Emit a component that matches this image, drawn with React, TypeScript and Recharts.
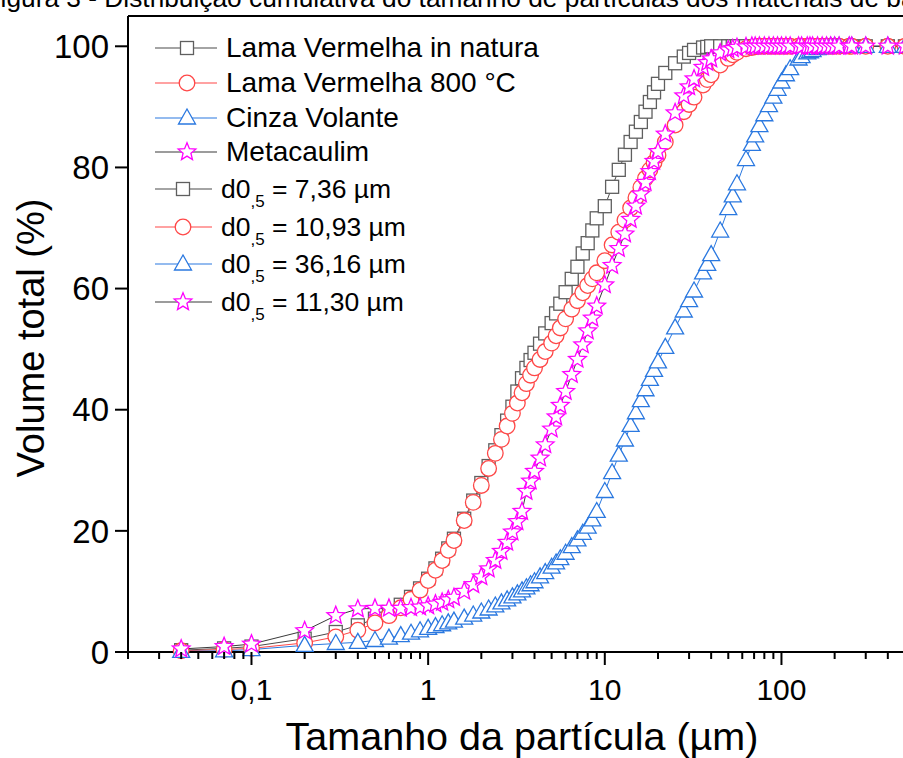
// Distribuição granulométrica acumulada dos materiais de base:
// log x (tamanho da partícula) vs volume acumulado, four open-marker series.

import { Legend, Line, LineChart, ReferenceLine, XAxis, YAxis } from "recharts";

const FONT = "'Liberation Sans', Arial, Helvetica, sans-serif";

// granulometer size classes (µm)
const SIZES = [
  0.04, 0.07, 0.1, 0.2, 0.3, 0.4, 0.5, 0.6, 0.7, 0.8, 0.9, 1.0,
  1.1, 1.2, 1.3, 1.4, 1.6, 1.8, 2.0, 2.2, 2.4, 2.6, 2.8, 3.0,
  3.2, 3.4, 3.6, 3.8, 4.0, 4.3, 4.6, 5.0, 5.3, 5.6, 6.0, 6.5,
  7.0, 7.5, 8.0, 8.5, 9.0, 10, 11, 12, 13, 14, 15, 16,
  17, 18, 19, 20, 22, 25, 28, 30, 32, 36, 38, 40,
  45, 50, 53, 56, 63, 68, 71, 75, 80, 85, 90, 95,
  100, 106, 112, 125, 130, 140, 145, 150, 160, 170, 180, 190,
  200, 212, 242, 250, 300, 400, 500,
];

// cumulative volume (%) per class
const LV_NATURA = [
  0.3, 0.6, 0.9, 2.2, 3.3, 4.4, 5.5, 6.6, 7.8, 9.1, 10.5, 12.1,
  13.8, 15.4, 17.1, 18.7, 22.0, 25.0, 27.9, 30.7, 33.3, 35.8, 38.2, 40.5,
  43.0, 45.2, 46.9, 48.2, 49.4, 50.9, 52.6, 54.3, 55.9, 57.5, 59.4, 61.6,
  63.6, 65.8, 67.5, 69.6, 71.6, 73.6, 76.8, 79.6, 82.1, 84.2, 85.9, 87.5,
  89.2, 90.8, 92.4, 93.8, 95.6, 97.2, 98.3, 98.9, 99.4, 99.8, 99.9, 100,
  100, 100, 100, 100, 100, 100, 100, 100, 100, 100, 100, 100,
  100, 100, 100, 100, 100, 100, 100, 100, 100, 100, 100, 100,
  100, 100, 100, 100, 100, 100, 100,
];

const LV_800 = [
  0.2, 0.4, 0.6, 1.5, 2.5, 3.6, 4.8, 6.0, 7.3, 8.7, 10.2, 11.8,
  13.5, 15.1, 16.8, 18.4, 21.7, 24.7, 27.5, 30.3, 32.8, 35.1, 37.3, 39.4,
  41.1, 42.8, 44.3, 45.7, 46.9, 48.3, 49.6, 51.0, 52.2, 53.5, 55.0, 56.6,
  58.0, 59.3, 60.5, 61.6, 62.6, 64.6, 67.2, 69.3, 71.3, 73.3, 75.0, 76.7,
  78.2, 79.6, 80.8, 82.0, 84.2, 87.0, 89.2, 90.4, 91.6, 93.6, 94.5, 95.3,
  96.9, 98.0, 98.6, 99.0, 99.6, 99.8, 99.9, 100, 100, 100, 100, 100,
  100, 100, 100, 100, 100, 100, 100, 100, 100, 100, 100, 100,
  100, 100, 100, 100, 100, 100, 100,
];

const CINZA_VOLANTE = [
  0.1, 0.2, 0.4, 1.1, 1.4, 1.6, 1.9, 2.3, 2.7, 3.1, 3.5, 3.9,
  4.2, 4.5, 4.8, 5.1, 5.6, 6.1, 6.6, 7.1, 7.6, 8.1, 8.6, 9.1,
  9.6, 10.1, 10.6, 11.1, 11.6, 12.4, 13.1, 14.0, 14.7, 15.4, 16.3, 17.4,
  18.5, 19.6, 20.6, 21.8, 23.2, 26.5, 29.6, 32.5, 35.0, 37.4, 39.5, 41.5,
  43.3, 45.0, 46.5, 47.9, 50.3, 53.5, 56.3, 58.0, 59.6, 62.6, 64.0, 65.6,
  69.5, 73.2, 75.3, 77.3, 81.3, 83.8, 85.2, 86.9, 88.7, 90.2, 91.6, 92.9,
  94.1, 95.3, 96.3, 97.9, 98.3, 98.9, 99.1, 99.3, 99.6, 99.8, 99.9, 100,
  100, 100, 100, 100, 100, 100, 100,
];

const METACAULIM = [
  0.5, 0.9, 1.3, 3.5, 6.0, 7.1, 7.2, 7.2, 7.2, 7.3, 7.4, 7.6,
  7.9, 8.2, 8.6, 9.0, 10.0, 11.1, 12.4, 13.7, 15.1, 16.6, 18.1, 19.8,
  21.5, 23.2, 26.5, 28.2, 29.8, 32.0, 34.2, 36.8, 38.8, 40.7, 43.0, 45.8,
  48.3, 50.7, 53.0, 55.1, 57.1, 60.6, 63.8, 66.6, 69.0, 71.4, 73.6, 75.6,
  77.5, 79.3, 81.0, 82.6, 85.5, 89.0, 91.8, 93.3, 94.6, 96.5, 97.3, 97.9,
  98.9, 99.4, 99.6, 99.8, 99.9, 100, 100, 100, 100, 100, 100, 100,
  100, 100, 100, 100, 100, 100, 100, 100, 100, 100, 100, 100,
  100, 100, 100, 100, 100, 100, 100,
];

const X_MAJOR = [0.1, 1, 10, 100];
const X_MAJOR_LABELS = ["0,1", "1", "10", "100"];
const X_MINOR = [
  0.02, 0.03, 0.04, 0.05, 0.06, 0.07, 0.08, 0.09,
  0.2, 0.3, 0.4, 0.5, 0.6, 0.7, 0.8, 0.9,
  2, 3, 4, 5, 6, 7, 8, 9,
  20, 30, 40, 50, 60, 70, 80, 90,
  200, 300, 400, 500, 600, 700,
];
const Y_TICKS = [0, 20, 40, 60, 80, 100];

const SERIES_NAMES = ["Lama Vermelha in natura", "Lama Vermelha 800 °C", "Cinza Volante", "Metacaulim"];
const D50_LABELS = ["7,36", "10,93", "36,16", "11,30"];

const TITLE = "Figura 3 - Distribuição cumulativa do tamanho de partículas dos materiais de base";

type Shape = "square" | "circle" | "triangle" | "star";

const SERIES: Array<{ key: string; shape: Shape; mark: string; line: string }> = [
  { key: "natura", shape: "square", mark: "#5f5f5f", line: "#4a4a4a" },
  { key: "c800", shape: "circle", mark: "#ff4747", line: "#ff4747" },
  { key: "cinza", shape: "triangle", mark: "#2a78e0", line: "#2a78e0" },
  { key: "meta", shape: "star", mark: "#ff00ff", line: "#3a3a3a" },
];

const DATA = SIZES.map((x, i) => ({
  x,
  natura: LV_NATURA[i],
  c800: LV_800[i],
  cinza: CINZA_VOLANTE[i],
  meta: METACAULIM[i],
}));

function starPoints(cx: number, cy: number, R: number, r: number) {
  const pts: string[] = [];
  for (let i = 0; i < 10; i++) {
    const a = ((-90 + i * 36) * Math.PI) / 180;
    const rad = i % 2 === 0 ? R : r;
    pts.push(`${cx + rad * Math.cos(a)},${cy + rad * Math.sin(a)}`);
  }
  return pts.join(" ");
}

function Marker({ shape, cx, cy, color }: { shape: Shape; cx: number; cy: number; color: string }) {
  const common = { fill: "#fff", stroke: color, strokeWidth: 1.3 };
  if (shape === "square") return <rect x={cx - 6.5} y={cy - 6.5} width={13} height={13} {...common} />;
  if (shape === "circle") return <circle cx={cx} cy={cy} r={7.8} {...common} />;
  if (shape === "triangle")
    return <polygon points={`${cx},${cy - 9} ${cx - 8.5},${cy + 6} ${cx + 8.5},${cy + 6}`} {...common} />;
  return <polygon points={starPoints(cx, cy, 9.3, 4.1)} {...common} />;
}

function dotFor(shape: Shape, color: string) {
  return (props: any) => {
    const { cx, cy, index } = props;
    if (cx == null || cy == null) return <g key={`${shape}-${index}`} />;
    return (
      <g key={`${shape}-${index}`}>
        <Marker shape={shape} cx={cx} cy={cy} color={color} />
      </g>
    );
  };
}

function XTick(props: any) {
  const { x, y, payload } = props;
  const mi = X_MAJOR.indexOf(payload.value);
  return (
    <g>
      <line x1={x} x2={x} y1={y} y2={y + (mi >= 0 ? 13 : 7)} stroke="#000" strokeWidth={2} />
      {mi >= 0 && (
        <text x={x} y={y + 48} textAnchor="middle" fontSize={30} fontFamily={FONT} fill="#000">
          {X_MAJOR_LABELS[mi]}
        </text>
      )}
    </g>
  );
}

// legend drawn at fixed page positions, same look as the Origin box
function LegendBox() {
  const rows = [57, 92, 127, 161];
  const subRows = [198, 236, 273, 311];
  return (
    <svg width={903} height={330} style={{ display: "block" }}>
      {SERIES.map((s, i) => (
        <g key={s.key}>
          <line x1={155} x2={217} y1={rows[i] - 9} y2={rows[i] - 9} stroke={s.line} strokeWidth={1.2} />
          <Marker shape={s.shape} cx={187} cy={rows[i] - 9} color={s.mark} />
          <text x={226} y={rows[i]} fontSize={28} fontFamily={FONT} fill="#000">
            {SERIES_NAMES[i]}
          </text>
        </g>
      ))}
      {SERIES.map((s, i) => (
        <g key={`d-${s.key}`}>
          <line x1={155} x2={212} y1={subRows[i] - 9} y2={subRows[i] - 9} stroke={s.line} strokeWidth={1.2} />
          <Marker shape={s.shape} cx={183} cy={subRows[i] - 9} color={s.mark} />
          <text x={221} y={subRows[i]} fontSize={26.5} fontFamily={FONT} fill="#000">
            d0
            <tspan fontSize={17} dy={9}>,5</tspan>
            <tspan dy={-9}>{` = ${D50_LABELS[i]} µm`}</tspan>
          </text>
        </g>
      ))}
    </svg>
  );
}

export default function App() {
  return (
    <div
      style={{
        position: "absolute",
        left: 0,
        top: 0,
        width: 903,
        height: 758,
        overflow: "hidden",
        background: "#fff",
      }}
    >
      <svg width={903} height={20} style={{ position: "absolute", left: 0, top: 0 }}>
        <text x={-15.5} y={7} fontSize={26.3} fontFamily={FONT} fill="#000">
          {TITLE}
        </text>
      </svg>
      <LineChart width={941} height={758} data={DATA} margin={{ top: 16, right: 0, bottom: 0, left: 0 }}>
        <XAxis
          dataKey="x"
          type="number"
          scale="log"
          domain={[0.02, 800]}
          ticks={[...X_MINOR, ...X_MAJOR]}
          interval={0}
          tickSize={0}
          tickMargin={0}
          tickLine={false}
          tick={<XTick />}
          axisLine={{ stroke: "#000", strokeWidth: 2 }}
          height={106}
          label={{
            content: () => (
              <text x={522} y={750} textAnchor="middle" fontSize={39.5} fontFamily={FONT} fill="#000">
                Tamanho da partícula (µm)
              </text>
            ),
          }}
        />
        <YAxis
          type="number"
          domain={[0, 105]}
          ticks={Y_TICKS}
          width={128}
          tickSize={13}
          tickMargin={6}
          tick={{ fill: "#000", fontSize: 33, fontFamily: FONT }}
          tickLine={{ stroke: "#000", strokeWidth: 2 }}
          axisLine={{ stroke: "#000", strokeWidth: 2 }}
          label={{
            content: () => (
              <text
                x={44}
                y={338}
                transform="rotate(-90 44 338)"
                textAnchor="middle"
                fontSize={38}
                fontFamily={FONT}
                fill="#000"
              >
                Volume total (%)
              </text>
            ),
          }}
        />
        <ReferenceLine y={105} stroke="#000" strokeWidth={2} />
        {SERIES.map((s) => (
          <Line
            key={s.key}
            dataKey={s.key}
            type="linear"
            stroke={s.line}
            strokeWidth={1}
            dot={dotFor(s.shape, s.mark)}
            activeDot={false}
            isAnimationActive={false}
            legendType="none"
          />
        ))}
        <Legend
          layout="vertical"
          align="center"
          verticalAlign="middle"
          wrapperStyle={{ position: "absolute", left: 0, top: 0, width: 903, height: 330 }}
          content={() => <LegendBox />}
        />
      </LineChart>
    </div>
  );
}
